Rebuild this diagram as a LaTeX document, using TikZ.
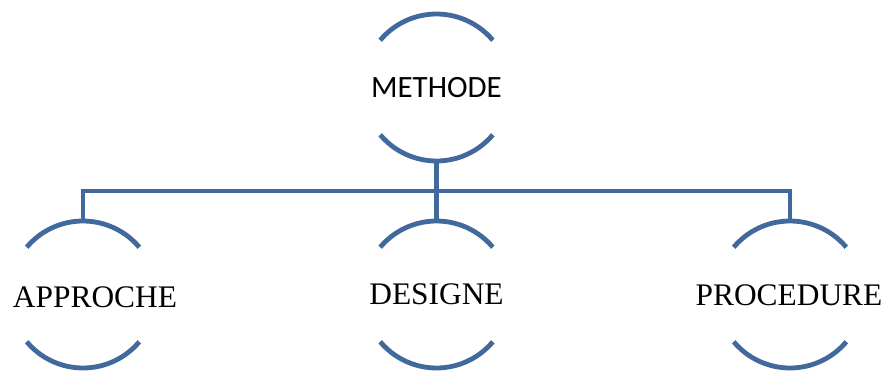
\documentclass[tikz,border=0pt]{standalone}
\usepackage{fontspec}
\usepackage{xcolor}
\usepackage{tikz}
\newfontfamily\calibrifont{Carlito}
\setmainfont{Liberation Serif}
\definecolor{ringblue}{RGB}{65,105,156}

\begin{document}
\begin{tikzpicture}[x=0.5pt,y=0.5pt,
    ring/.style={circle,minimum size=147pt*0.5,inner sep=0pt,outer sep=0pt},
    lbl/.style={inner sep=0pt,font=\fontsize{15.7}{18}\selectfont},
    toplbl/.style={inner sep=0pt,font=\calibrifont\fontsize{15.5}{18}\selectfont},
    link/.style={draw=ringblue,line width=2.4pt}]
\useasboundingbox (0,0) rectangle (887,371);
\node[ring] (methode) at (436.5,283.5) {};
\node[ring] (approche) at (83,76.5) {};
\node[ring] (designe) at (436.5,76.5) {};
\node[ring] (procedure) at (790,76.5) {};
\coordinate (bus) at (436.5,180);
\node[toplbl] (methode-txt) at (methode) {METHODE};
\node[lbl] (approche-txt) at ([xshift=6pt,yshift=-1.5pt]approche.center) {APPROCHE};
\node[lbl] (designe-txt) at (designe) {DESIGNE};
\node[lbl] (procedure-txt) at ([xshift=-0.5pt,yshift=-0.5pt]procedure.center) {PROCEDURE};
\foreach \n in {methode,approche,designe,procedure}{
  \draw[link] (\n.40) arc[start angle=40,end angle=140,radius=36.75pt];
  \draw[link] (\n.220) arc[start angle=220,end angle=320,radius=36.75pt];
}
\draw[link] (methode.south) -- (bus);
\draw[link] (approche.north) |- (bus) -| (procedure.north);
\draw[link] (bus) -- (designe.north);
\end{tikzpicture}
\end{document}
